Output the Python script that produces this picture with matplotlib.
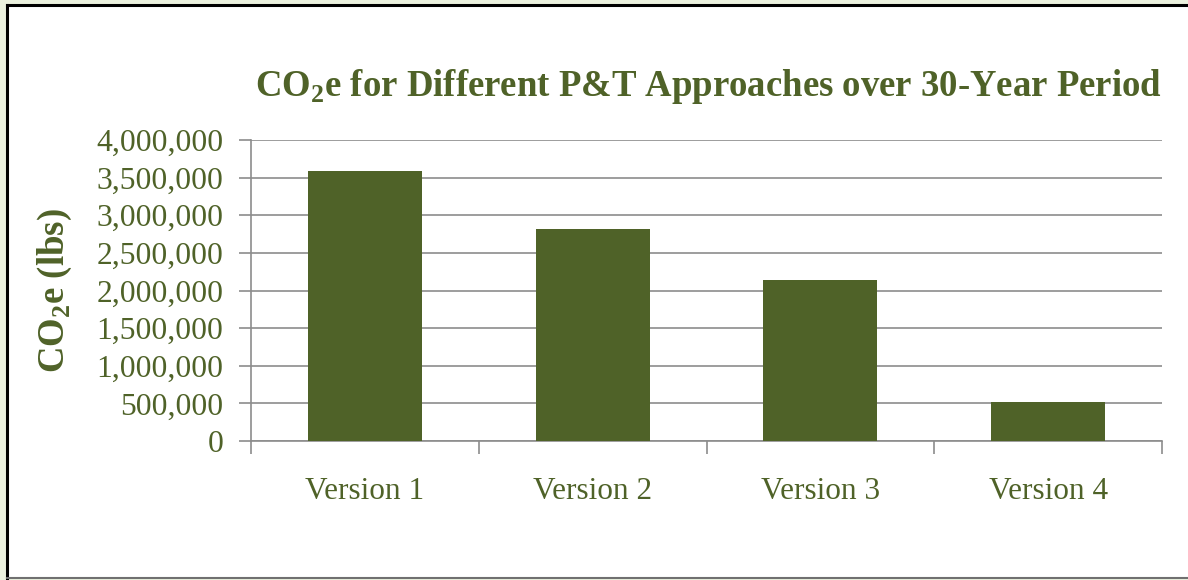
import matplotlib
matplotlib.use("Agg")
import matplotlib.pyplot as plt
from matplotlib.patches import Rectangle
from matplotlib.lines import Line2D
from matplotlib.ticker import FuncFormatter, MultipleLocator
import numpy as np

plt.rcParams["font.family"] = ["Liberation Serif", "DejaVu Serif"]
plt.rcParams["mathtext.fontset"] = "custom"
plt.rcParams["mathtext.rm"] = "Liberation Serif:bold"

GREEN = "#4F6228"
GRID = "#8c8c8c"

versions = ["Version 1", "Version 2", "Version 3", "Version 4"]
co2e_lbs = [3590000, 2815000, 2140000, 518000]

W, H = 1188, 580
fig = plt.figure(figsize=(W / 100, H / 100), dpi=100)
fig.patch.set_facecolor("#EBF1DE")

# white panel with frame (cropped on right/bottom like the source image)
fig.patches.append(Rectangle((6 / W, 2 / H), 1.0, 1 - 7 / H, transform=fig.transFigure,
                             facecolor="white", edgecolor="none", zorder=-5))
fig.lines.append(Line2D([6.5 / W, 1.0], [1 - 5 / H] * 2, transform=fig.transFigure,
                        color="black", lw=2.2, zorder=-4))
fig.lines.append(Line2D([6.5 / W] * 2, [2 / H, 1 - 5 / H], transform=fig.transFigure,
                        color="black", lw=2.2, zorder=-4))
fig.lines.append(Line2D([6.5 / W, 1.0], [2 / H] * 2, transform=fig.transFigure,
                        color="#707070", lw=1.5, zorder=-4))

ax = fig.add_axes([251 / W, 1 - 441 / H, (1162 - 251) / W, (441 - 140) / H])
ax.set_facecolor("none")

x = np.arange(len(versions))
ax.bar(x, co2e_lbs, width=0.5, color=GREEN, zorder=3)

ax.set_xlim(-0.5, len(versions) - 0.5)
ax.set_ylim(0, 4000000)
ax.yaxis.set_major_locator(MultipleLocator(500000))
ax.yaxis.set_major_formatter(FuncFormatter(lambda v, p: f"{int(v):,}"))
ax.grid(axis="y", color=GRID, lw=1.2, zorder=0)

for s in ["top", "right"]:
    ax.spines[s].set_visible(False)
for s in ["left", "bottom"]:
    ax.spines[s].set_color(GRID)
    ax.spines[s].set_linewidth(1.2)

ax.set_xticks(x)
ax.set_xticklabels(versions)
ax.set_xticks(np.arange(-0.5, len(versions), 1.0), minor=True)
ax.tick_params(axis="x", which="major", length=0, pad=26, labelsize=22.5, labelcolor=GREEN)
ax.tick_params(axis="x", which="minor", length=9, width=1.2, color=GRID, direction="out")
ax.tick_params(axis="y", length=9, width=1.2, color=GRID, pad=11, labelsize=22.8,
               labelcolor=GREEN)

ax.set_ylabel("CO$_\\mathrm{2}$e (lbs)", fontsize=26.5, fontweight="bold", color=GREEN,
              labelpad=16)

fig.text(1162 / W, 1 - 86 / H,
         "CO$_\\mathrm{2}$e for Different P&T Approaches over 30-Year Period",
         ha="right", va="center", fontsize=26.5, fontweight="bold", color=GREEN)

fig.savefig("out.png", dpi=100, facecolor=fig.get_facecolor())
